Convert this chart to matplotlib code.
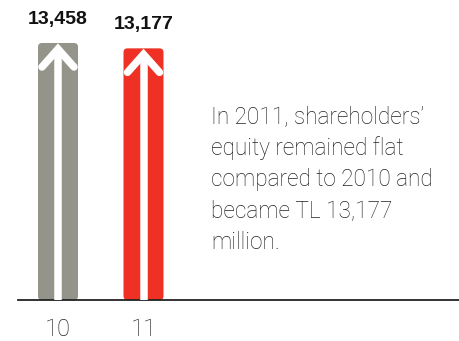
import matplotlib
matplotlib.use("Agg")
import matplotlib.pyplot as plt
from matplotlib.patches import FancyBboxPatch
from matplotlib.lines import Line2D

# Shareholders' equity (TL million)
years = ["10", "11"]
equity = [13458, 13177]
value_labels = ["13,458", "13,177"]
bar_colors = ["#94948a", "#ee3124"]
note = ("In 2011, shareholders\u2019\nequity remained flat\n"
        "compared to 2010 and\nbecame TL 13,177\nmillion.")

W, H, DPI = 459, 341, 100
fig = plt.figure(figsize=(W / DPI, H / DPI), dpi=DPI)

# axes in pixel layout: baseline at y=300 from top, starting at x=18
left_px, base_px = 18, 300
ax = fig.add_axes([left_px / W, (H - base_px) / H, 1 - left_px / W, base_px / H])
unit_px = 85.5                      # pixels between category centres
first_px = 58
ymax = 15709
ax.set_xlim(-(first_px - left_px) / unit_px, (W - first_px) / unit_px)
ax.set_ylim(0, ymax)

px_x = unit_px                      # px per x unit
px_y = base_px / ymax               # px per y unit
bar_w = 40 / px_x

xpos = list(range(len(years)))
bars = ax.bar(xpos, equity, width=bar_w, color=bar_colors)

# replace the plain bars with rounded ones
radius = 4 / px_x
for b, c in zip(bars, bar_colors):
    x0, y0 = b.get_x(), b.get_y()
    w, h = b.get_width(), b.get_height()
    b.set_visible(False)
    ax.add_patch(FancyBboxPatch((x0, y0), w, h,
                                boxstyle=f"round,pad=0,rounding_size={radius}",
                                mutation_aspect=px_x / px_y,
                                fc=c, ec="none", zorder=2))

# white arrow inside each bar
lw_pt = 7.5 * 72 / DPI
for x, v in zip(xpos, equity):
    tip = v - 6 / px_y
    ax.add_line(Line2D([x, x], [0, tip], color="white", lw=lw_pt,
                       solid_capstyle="butt", zorder=3))
    dx = 16 / px_x
    dy = 18 / px_y
    ax.add_line(Line2D([x - dx, x, x + dx], [tip - dy, tip, tip - dy],
                       color="white", lw=lw_pt, solid_capstyle="round",
                       solid_joinstyle="miter", zorder=3))

# value labels above bars
for x, v, t in zip(xpos, equity, value_labels):
    ax.annotate(t, (x, v), xytext=(0, 17), textcoords="offset points",
                ha="center", va="center", fontsize=14, fontweight="bold",
                family="Liberation Sans", color="#111111")

# baseline and category labels
for s in ["top", "right", "left"]:
    ax.spines[s].set_visible(False)
ax.spines["bottom"].set_color("#222222")
ax.spines["bottom"].set_linewidth(1.3)
ax.set_yticks([])
ax.set_xticks(xpos)
ax.set_xticklabels(years, fontsize=17, family="Roboto", fontweight="light",
                   color="#222222")
ax.tick_params(axis="x", length=0, pad=13)

fig.text(211 / W, 1 - 105 / H, note, ha="left", va="top", fontsize=16.3,
         family="Roboto", fontweight="light", color="#222222",
         linespacing=1.45)

fig.savefig("out.png", dpi=DPI)
